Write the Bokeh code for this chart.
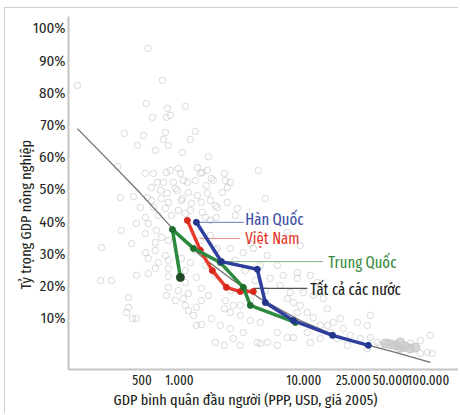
from bokeh.plotting import figure
from bokeh.models import FixedTicker, PrintfTickFormatter, Label, Title
from bokeh.embed import file_html
from bokeh.resources import INLINE

TICK_FONT = "Fira Sans Condensed"
FONT = "Fira Sans Extra Condensed"
INK = "#231f20"

# ---- data -------------------------------------------------------------
all_gdp = [560, 151, 730, 542, 800, 1115, 606, 785, 845, 361, 513, 771, 1342, 460, 640, 743, 1055, 1224, 1706, 318,
           617, 845, 1017, 1393, 1472, 1675, 664, 743, 893, 1157, 703, 800, 962, 335, 427, 552, 1055, 1393, 1675, 2212,
           4303, 4898, 2563, 2917, 815, 532, 785, 980, 1528, 1804, 1075, 1342, 1644, 595, 927, 1179, 595, 716, 815, 1036,
           1247, 1500, 1942, 485, 617, 771, 980, 1224, 1528, 532, 677, 861, 1115, 1614, 1978, 341, 451, 562, 652, 716,
           640, 815, 532, 236, 412, 532, 640, 771, 562, 677, 815, 1036, 640, 815, 1115, 562, 232, 284, 451, 815,
           1115, 1367, 815, 980, 1179, 1500, 785, 927, 1075, 389, 389, 375, 419, 451, 1179, 1367, 1296, 1500, 1804, 1367,
           1500, 1942, 1115, 1706, 2337, 2295, 1871, 2426, 1771, 2426, 2015, 2811, 1771, 3710, 9364, 7360, 2015, 2563, 3260, 3922,
           5083, 6117, 6836, 5373, 6466, 7360, 8226, 9364, 10660, 11913, 8859, 13560, 15437, 10660, 8226, 6117, 4465, 3710, 3083, 2563,
           2295, 2710, 2131, 2563, 3260, 4224, 5083, 6117, 2295, 2710, 3083, 11268, 13560, 15437, 14333, 11913, 9898, 7781, 8859, 11268,
           12828, 8859, 17249, 20760, 23631, 28437, 34222, 38960, 46885, 56421, 63050, 71771, 86369, 98328, 86369, 32375, 26903, 19637, 34222, 41183,
           16318, 18577, 22356, 32375, 4465, 7360, 103937, 107866, 1472, 1771, 1942, 2811, 3382, 4070, 4465, 2563, 3710, 4898,
           1614, 1342, 1224, 1942, 2337, 3083]
all_share = [93.8, 82.3, 83.9, 76.7, 75.2, 75.8, 72.4, 72.4, 73.0, 67.4, 66.8, 67.7, 68.0, 63.7, 62.1, 65.5, 61.5, 65.5, 60.2, 57.1,
             55.0, 55.9, 55.0, 56.8, 55.0, 55.9, 52.2, 52.2, 52.2, 52.2, 49.7, 48.8, 49.7, 47.5, 47.8, 47.5, 47.2, 48.1, 48.8, 49.1,
             55.9, 47.2, 52.2, 44.1, 63.7, 55.0, 55.3, 56.5, 55.3, 53.4, 52.8, 52.8, 51.2, 50.6, 50.3, 49.1, 46.6, 47.2, 46.0, 46.6,
             45.7, 46.0, 45.0, 44.4, 44.4, 44.1, 43.5, 43.5, 42.9, 41.3, 41.9, 41.9, 42.5, 41.3, 41.3, 37.3, 39.4, 39.4, 37.3, 35.1,
             33.5, 34.2, 36.3, 32.0, 33.2, 30.4, 31.1, 29.5, 28.6, 27.3, 28.0, 28.6, 25.5, 25.5, 24.8, 23.9, 21.7, 21.7, 23.3, 23.0,
             21.1, 22.7, 19.6, 18.6, 17.7, 19.3, 17.1, 15.5, 16.1, 16.5, 13.4, 11.8, 9.9, 9.9, 12.4, 13.4, 10.9, 15.5, 9.9, 7.8,
             8.1, 2.5, 14.0, 17.1, 52.8, 55.0, 52.8, 50.6, 46.6, 46.0, 44.4, 41.9, 40.4, 33.2, 32.6, 36.6, 31.7, 31.7, 30.4, 31.7,
             29.5, 26.4, 23.3, 22.4, 20.2, 16.1, 14.9, 14.0, 11.8, 10.2, 11.8, 7.8, 7.8, 5.6, 4.0, 5.6, 8.7, 9.3, 10.9, 11.8,
             13.0, 14.0, 7.8, 6.8, 5.6, 2.5, 2.5, 1.6, 1.6, 3.7, 1.6, 2.5, 3.7, 13.0, 16.1, 17.1, 18.0, 18.0, 22.4, 23.3,
             21.1, 24.2, 8.7, 6.8, 4.7, 3.7, 4.0, 2.5, 2.5, 1.6, 0.6, 2.2, 3.1, -0.6, -0.9, 7.8, 8.7, 9.9, 10.9, 1.6,
             5.6, 3.7, 1.6, 0.6, 2.2, 4.0, 4.7, -0.9, 34.2, 35.7, 31.1, 28.0, 24.8, 21.7, 26.4, 18.6, 15.5, 18.6,
             26.4, 31.1, 27.3, 23.3, 15.5, 14.0]

dense_gdp = [45200, 49600, 54400, 59600, 65400, 71800, 78700, 59600]
dense_share = [2.2, 1.9, 1.6, 0.9, 1.2, 0.6, 0.9, 2.5]

fit_gdp = [151, 279, 485, 877, 1472, 2563, 4465, 9364, 19637, 54366, 103937]
fit_share = [68.9, 58.4, 48.8, 37.9, 29.5, 22.4, 16.1, 9.3, 4.0, -0.6, -3.7]

korea_gdp = [1367, 2171, 4224, 4898, 8226, 17000, 32981]
korea_share = [39.8, 27.6, 25.2, 14.9, 9.3, 4.7, 1.6]

vietnam_gdp = [1157, 1472, 1838, 2381, 3083, 3922]
vietnam_share = [40.4, 31.1, 24.8, 19.6, 18.3, 18.3]

china_gdp = [1017, 877, 1294, 2131, 3260, 3710, 8536]
china_share = [22.7, 37.6, 31.7, 27.3, 19.6, 14.0, 8.7]

x_ticks = [500, 1000, 10000, 25000, 50000, 100000]
x_tick_labels = ["500", "1.000", "10.000", "25.000", "50.000", "100.000"]
y_ticks = [10, 20, 30, 40, 50, 60, 70, 80, 90, 100]

series_names = ["Hàn Quốc", "Việt Nam", "Trung Quốc", "Tất cả các nước"]

# ---- figure ------------------------------------------------------------
p = figure(width=454, height=406, x_axis_type="log",
           x_range=(128.2, 178200), y_range=(-5.9, 103.7),
           output_backend="svg", toolbar_location=None,
           min_border_left=63, min_border_top=8, min_border_right=0, min_border_bottom=45,
           margin=(7, 0, 0, 4),
           styles={"border-top": "1px solid #cfcfcf", "border-left": "1px solid #cfcfcf"})
p.outline_line_color = None
p.grid.visible = False

for ax in (p.xaxis[0], p.yaxis[0]):
    ax.axis_line_color = "#c4c4c4"
    ax.axis_line_width = 2
    ax.major_tick_line_color = None
    ax.minor_tick_line_color = None
    ax.major_tick_out = 0
    ax.major_tick_in = 0
    ax.major_label_text_color = INK

p.xaxis.ticker = FixedTicker(ticks=x_ticks, minor_ticks=[])
p.xaxis.major_label_overrides = {t: l for t, l in zip(x_ticks, x_tick_labels)}
p.xaxis.major_label_standoff = 5
p.xaxis.major_label_text_font = FONT
p.xaxis.major_label_text_font_size = "14px"
p.yaxis.ticker = FixedTicker(ticks=y_ticks, minor_ticks=[])
p.yaxis.formatter = PrintfTickFormatter(format="%d%%")
p.yaxis.major_label_standoff = 3
p.yaxis.major_label_text_font = TICK_FONT
p.yaxis.major_label_text_font_size = "15px"

# axis titles (side-panel titles so they can be placed like the original)
p.add_layout(Title(text="GDP bình quân đầu người (PPP, USD, giá 2005)", align="left", offset=45,
                   vertical_align="middle", standoff=4, text_font=FONT, text_font_size="15.5px",
                   text_font_style="normal", text_color=INK), "below")
try:
    ytitle = Title(text="Tỷ trọng GDP nông nghiệp", align="left", offset=80,
                   vertical_align="middle", standoff=-12, text_font=FONT, text_font_size="15.5px",
                   text_font_style="normal", text_color=INK)
except Exception:
    ytitle = Title(text="Tỷ trọng GDP nông nghiệp", align="left", offset=80,
                   vertical_align="middle", standoff=0, text_font=FONT, text_font_size="15.5px",
                   text_font_style="normal", text_color=INK)
p.add_layout(ytitle, "left")

# scatter cloud
p.scatter(all_gdp, all_share, size=6.5, marker="circle", fill_color=None,
          line_color="#c2c2c2", line_alpha=0.6, line_width=1)
p.scatter(dense_gdp, dense_share, size=9, marker="circle", fill_color="#cccccc",
          fill_alpha=0.8, line_color="#c4c4c4")

# fitted curve
p.line(fit_gdp, fit_share, line_color="#707070", line_width=1.3)

# leader lines
p.line([korea_gdp[0], 3300], [korea_share[0], korea_share[0]], line_color="#6b78c0", line_width=1)
p.line([1472, 3083], [34.8, 34.8], line_color="#ec8a80", line_width=1)
p.line([2295, 14300], [27.6, 27.6], line_color="#86b886", line_width=1)
p.line([3922, 10660], [19.3, 19.3], line_color="#555555", line_width=1.2)

# country paths
p.line(vietnam_gdp, vietnam_share, line_color="#e8392c", line_width=3.5)
p.scatter(vietnam_gdp, vietnam_share, size=6, marker="circle", color="#d8281e")
p.line(china_gdp, china_share, line_color="#2b8a3e", line_width=3.5)
p.scatter(china_gdp, china_share, size=6, marker="circle", color="#1f6e2e")
p.scatter(china_gdp[:1], china_share[:1], size=8, marker="circle", color="#1e4a26")
p.line(korea_gdp, korea_share, line_color="#2e3f9e", line_width=3.5)
p.scatter(korea_gdp, korea_share, size=6, marker="circle", color="#24358e")

# series labels
lab_colors = ["#3b4ea3", "#e5392b", "#3b8c3e", "#1a1a1a"]
lab_x = [3382, 3382, 15700, 11268]
lab_y = [40.8, 34.8, 27.3, 18.9]
for name, c, lx, ly in zip(series_names, lab_colors, lab_x, lab_y):
    p.add_layout(Label(x=lx, y=ly, text=name, text_color=c, text_font=FONT,
                       text_font_size="16px", text_baseline="middle", text_align="left"))

open("out.html", "w").write(file_html(p, INLINE))
